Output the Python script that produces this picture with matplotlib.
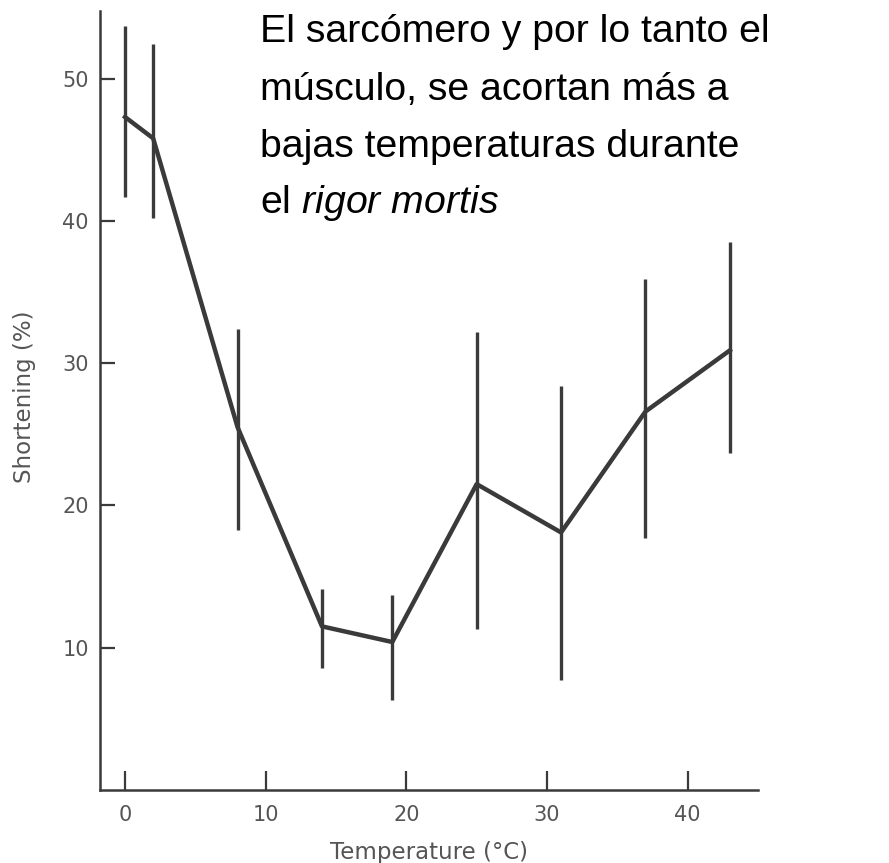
import matplotlib
matplotlib.use("Agg")
from matplotlib import pyplot as plt

# datos
temperatura = [0, 2, 8, 14, 19, 25, 31, 37, 43]
acortamiento = [47.3, 45.8, 25.5, 11.5, 10.4, 21.5, 18.1, 26.6, 30.9]
error_abajo = [41.7, 40.2, 18.3, 8.6, 6.3, 11.3, 7.7, 17.7, 23.7]
error_arriba = [53.7, 52.4, 32.4, 14.1, 13.7, 32.2, 28.4, 35.9, 38.5]

ticks_x = [0, 10, 20, 30, 40]
ticks_y = [10, 20, 30, 40, 50]

titulo = ["El sarcómero y por lo tanto el",
          "músculo, se acortan más a",
          "bajas temperaturas durante"]

plt.rcParams["mathtext.fontset"] = "custom"
plt.rcParams["mathtext.rm"] = "Liberation Sans"
plt.rcParams["mathtext.it"] = "Liberation Sans:italic"

gris = "#3a3a3a"
gris_texto = "#555555"
fig = plt.figure(figsize=(8.89, 8.63), dpi=100)
ax = fig.add_axes([100 / 889, 73 / 863, 658 / 889, 779 / 863])

# barras de error sin tapas
ax.vlines(temperatura, error_abajo, error_arriba, color=gris, linewidth=2.4)
ax.plot(temperatura, acortamiento, color=gris, linewidth=3.2, solid_joinstyle="round")

ax.set_xlim(-1.78, 45.0)
ax.set_ylim(0, 54.75)
ax.set_xticks(ticks_x)
ax.set_yticks(ticks_y)
ax.spines["top"].set_visible(False)
ax.spines["right"].set_visible(False)
for s in ["left", "bottom"]:
    ax.spines[s].set_linewidth(1.8)
    ax.spines[s].set_color(gris)
ax.tick_params(axis="x", direction="in", length=14, width=1.6, color=gris,
               pad=11, labelsize=15, labelcolor=gris_texto)
ax.tick_params(axis="y", direction="in", length=11, width=1.6, color=gris,
               pad=8, labelsize=15, labelcolor=gris_texto)

# etiquetas de los ejes
fig.text(429 / 889, 1 - 852 / 863, "Temperature (°C)", fontsize=16.5,
         color=gris_texto, ha="center", va="center")
fig.text(25 / 889, 1 - 397 / 863, "Shortening (%)", fontsize=16.5,
         color=gris_texto, ha="center", va="center", rotation=90)

# texto del título, línea por línea
base = [42, 100, 157]
for linea, b in zip(titulo, base):
    fig.text(260 / 889, 1 - b / 863, linea, fontsize=28.3,
             family="Liberation Sans", va="baseline", ha="left", color="black")
fig.text(260 / 889, 1 - 213 / 863, r"el $\mathit{rigor\ mortis}$", fontsize=28.3,
         family="Liberation Sans", va="baseline", ha="left", color="black")

fig.savefig("out.png", dpi=100)
